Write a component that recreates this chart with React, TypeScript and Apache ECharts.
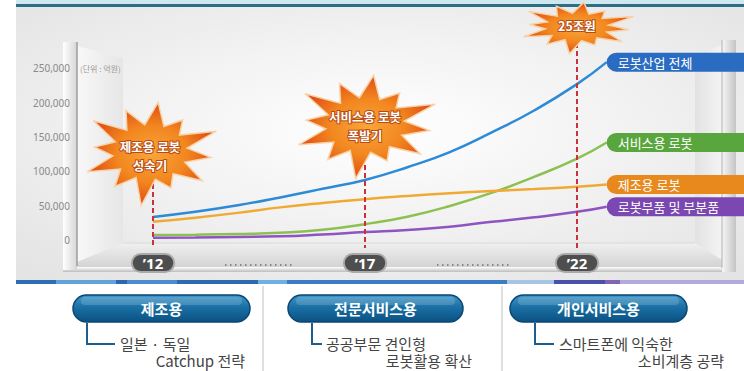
import React, { useEffect, useRef } from 'react';
import * as echarts from 'echarts';

const KR = '"Noto Sans CJK KR", "Noto Sans", sans-serif';

// x positions (years); the last point is where the lines run into their labels
const years = [2012, 2013, 2014, 2015, 2016, 2017, 2018, 2019, 2020, 2021, 2022, 2022.7];
const totalIndustry = [33500, 41000, 50500, 62000, 74500, 87500, 106000, 128000, 157000, 189000, 227000, 259000];
const serviceRobots = [7300, 7700, 8700, 10600, 14800, 23000, 33900, 49500, 68900, 92200, 118500, 142000];
const manufacturingRobots = [26500, 32500, 39500, 47500, 54000, 59500, 64000, 68000, 71300, 74200, 77600, 80800];
const robotParts = [3300, 3800, 4500, 5300, 8000, 11500, 14600, 19400, 26600, 33000, 41000, 48500];

const seriesNames = ['로봇산업 전체', '서비스용 로봇', '제조용 로봇', '로봇부품 및 부분품'];
const seriesColors = ['#2c8ad6', '#8cc152', '#f0aa34', '#8e54c2'];
const labelColors = ['#2a6cc2', '#5aa63e', '#e8891e', '#7a48b0'];

const yearTicks = [2012, 2017, 2022];
const unitText = '(단위 : 억원)';

const milestoneYears = [2012, 2017, 2022];
const milestoneTexts = [['제조용 로봇', '성숙기'], ['서비스용 로봇', '폭발기'], ['25조원']];

const segmentTitles = ['제조용', '전문서비스용', '개인서비스용'];
const segmentLine1 = ['일본 · 독일', '공공부문 견인형', '스마트폰에 익숙한'];
const segmentLine2 = ['Catchup 전략', '로봇활용 확산', '소비계층 공략'];

const starSpikes = [1, 0.8, 1.06, 0.9, 0.96, 0.78, 1.08, 0.86, 1, 0.82, 1.04, 0.9];

function starPoints(cx: number, cy: number, rx: number, ry: number) {
  const n = starSpikes.length;
  const pts: number[][] = [];
  for (let i = 0; i < n * 2; i++) {
    const a = (Math.PI * i) / n - Math.PI / 2 + 0.12;
    const r = i % 2 === 0 ? starSpikes[i / 2] : 0.55;
    pts.push([cx + Math.cos(a) * rx * r, cy + Math.sin(a) * ry * r]);
  }
  return pts;
}

const lin = (x2: number, y2: number, stops: [number, string][]) => ({
  type: 'linear', x: 0, y: 0, x2, y2,
  colorStops: stops.map(([offset, color]) => ({ offset, color })),
});

export default function App() {
  const ref = useRef<HTMLDivElement>(null);
  useEffect(() => {
    const chart = echarts.init(ref.current!, null, { renderer: 'svg' });
    const data = [totalIndustry, serviceRobots, manufacturingRobots, robotParts];
    const series = data.map((vals, i) => ({
      type: 'line',
      name: seriesNames[i],
      data: years.map((y, j) => [y, vals[j]]),
      smooth: 0.5,
      symbol: 'none',
      z: 5,
      clip: false,
      lineStyle: { color: seriesColors[i], width: 2.5 },
      itemStyle: { color: seriesColors[i] },
      emphasis: { disabled: true },
      endLabel: {
        show: true,
        formatter: seriesNames[i],
        distance: 0,
        backgroundColor: labelColors[i],
        color: '#fff',
        fontSize: 13,
        lineHeight: 13,
        fontFamily: KR,
        width: 126,
        padding: [3, 4, 3, 11],
        borderRadius: [10, 0, 0, 10],
      },
    }));

    chart.setOption({
      animation: false,
      grid: { left: 75, right: 103.4, top: 34, bottom: 131 },
      xAxis: {
        type: 'value',
        min: 2010.16,
        max: 2023.5,
        z: 5,
        axisLine: { show: false },
        axisTick: { show: false },
        splitLine: { show: false },
        axisLabel: {
          customValues: yearTicks,
          formatter: (v: number) => '\u2019' + String(v).slice(2),
          margin: 15,
          color: '#fff',
          fontSize: 15,
          fontWeight: 'bold',
          fontFamily: '"Open Sans", sans-serif',
          backgroundColor: '#4e4e4e',
          borderColor: '#aaa',
          borderWidth: 2,
          borderRadius: 9,
          padding: [0, 10, 0, 10],
          lineHeight: 16,
        },
      },
      yAxis: {
        type: 'value',
        min: 0,
        max: 300000,
        interval: 50000,
        z: 5,
        axisLine: { show: false },
        axisTick: { show: false },
        splitLine: { show: false },
        axisLabel: {
          showMaxLabel: false,
          margin: 5,
          color: '#8a8a8a',
          fontSize: 10,
          fontFamily: '"Noto Sans", sans-serif',
          formatter: (v: number) => (v >= 300000 ? '' : v.toLocaleString('en-US')),
        },
      },
      series,
    });

    const px = (x: number, y: number) => chart.convertToPixel({ gridIndex: 0 } as any, [x, y]) as number[];

    const g: any[] = [];
    // background panel
    g.push({
      type: 'rect', z: 0, silent: true,
      shape: { x: 16, y: 7, width: 728, height: 273 },
      style: { fill: { type: 'radial', x: 0.5, y: 0.45, r: 0.7, colorStops: [{ offset: 0, color: '#ffffff' }, { offset: 1, color: '#e4e4e4' }] } },
    });
    // top bar
    g.push({ type: 'rect', z: 0, silent: true, shape: { x: 16, y: 0, width: 728, height: 5 }, style: { fill: '#cfe7ef' } });
    g.push({ type: 'rect', z: 0, silent: true, shape: { x: 16, y: 4, width: 728, height: 3 }, style: { fill: '#2e6e84' } });
    // left wall
    g.push({
      type: 'polygon', z: 0, silent: true,
      shape: { points: [[77, 46], [123, 58], [123, 243], [77, 262]] },
      style: { fill: lin(1, 0, [[0, '#f8f8f8'], [1, '#e6e6e6']]) },
    });
    // right wall
    g.push({
      type: 'polygon', z: 0, silent: true,
      shape: { points: [[695, 55], [722, 45], [722, 268], [695, 243]] },
      style: { fill: lin(1, 0, [[0, '#e2e2e2'], [1, '#f4f4f4']]) },
    });
    // floor
    g.push({
      type: 'polygon', z: 0, silent: true,
      shape: { points: [[123, 243], [695, 243], [735, 268], [63, 268]] },
      style: { fill: lin(0, 1, [[0, '#f0f0f0'], [1, '#d2d2d2']]) },
    });
    g.push({ type: 'line', z: 0, silent: true, shape: { x1: 123, y1: 243, x2: 695, y2: 243 }, style: { stroke: '#d8d8d8', lineWidth: 1 } });
    g.push({ type: 'rect', z: 0, silent: true, shape: { x: 63, y: 267, width: 673, height: 5 }, style: { fill: lin(0, 1, [[0, '#ffffff'], [1, '#bdbdbd']]) } });
    // pillars
    g.push({ type: 'rect', z: 0, silent: true, shape: { x: 63, y: 42, width: 14, height: 228 }, style: { fill: lin(1, 0, [[0, '#ffffff'], [1, '#d6d6d6']]) } });
    g.push({ type: 'line', z: 0, silent: true, shape: { x1: 77, y1: 42, x2: 77, y2: 266 }, style: { stroke: '#9e9e9e', lineWidth: 1.5 } });
    g.push({ type: 'rect', z: 0, silent: true, shape: { x: 722, y: 40, width: 14, height: 232 }, style: { fill: lin(1, 0, [[0, '#f6f6f6'], [1, '#c4c4c4']]) } });
    g.push({ type: 'line', z: 0, silent: true, shape: { x1: 722, y1: 40, x2: 722, y2: 268 }, style: { stroke: '#b0b0b0', lineWidth: 1 } });

    // unit text
    g.push({ type: 'text', z: 6, silent: true, style: { text: unitText, x: 80, y: px(2012, 250000)[1], verticalAlign: 'middle', fill: '#9a9a9a', fontSize: 8, fontFamily: KR } });

    // dotted separators between year pills
    const p12 = px(2012, 0)[0], p17 = px(2017, 0)[0], p22 = px(2022, 0)[0];
    [[p12 + 72, p17 - 72], [p17 + 72, p22 - 68]].forEach(([a, b]) => {
      g.push({ type: 'line', z: 1, silent: true, shape: { x1: a, y1: 265, x2: b, y2: 265 }, style: { stroke: '#888', lineWidth: 2, lineDash: [1.5, 3.5] } });
    });

    // milestone starbursts + dashed lines
    const starGeom = [
      { dx: -3, cy: 152, rx: 68, ry: 50, ty: [146, 165] },
      { dx: 0, cy: 125, rx: 72, ry: 50, ty: [116, 135] },
      { dx: 0, cy: 27, rx: 58, ry: 25, ty: [25] },
    ];
    milestoneYears.forEach((yr, i) => {
      const x = px(yr, 0)[0];
      const s = starGeom[i];
      g.push({ type: 'line', z: 8, silent: true, shape: { x1: x, y1: s.cy, x2: x, y2: 248 }, style: { stroke: '#c8323c', lineWidth: 2, lineDash: [5, 3] } });
      g.push({
        type: 'polygon', z: 10, silent: true,
        shape: { points: starPoints(x + s.dx, s.cy, s.rx, s.ry) },
        style: {
          fill: { type: 'radial', x: 0.5, y: 0.5, r: 0.5, colorStops: [{ offset: 0, color: '#f9a53a' }, { offset: 0.55, color: '#f2861f' }, { offset: 1, color: '#df4d16' }] },
          stroke: '#f8d2a6', lineWidth: 1.5,
        },
      });
      milestoneTexts[i].forEach((t, k) => {
        g.push({
          type: 'text', z: 11, silent: true,
          style: { text: t, x: x + s.dx, y: s.ty[k], align: 'center', verticalAlign: 'middle', lineHeight: 14, fill: '#fff', fontSize: 12.5, fontWeight: 'bold', fontFamily: KR, stroke: '#b84a12', lineWidth: 2 },
        });
      });
    });

    // bottom colored strip
    const strip: [number, number, string][] = [
      [16, 56, '#2f6db5'], [56, 116, '#5fa2dc'], [116, 127, '#2d66ae'], [127, 177, '#4d8bd0'],
      [177, 258, '#2d6ab0'], [258, 287, '#6ab2e2'], [287, 507, '#3a7cc5'], [507, 554, '#a6c4e4'],
      [554, 605, '#4a4fa8'], [605, 620, '#8462b4'], [620, 744, '#b2aadb'],
    ];
    strip.forEach(([a, b, c]) => g.push({ type: 'rect', z: 1, silent: true, shape: { x: a, y: 280, width: b - a, height: 4 }, style: { fill: c } }));

    // column separators
    [263, 502].forEach((x) => g.push({ type: 'line', z: 1, silent: true, shape: { x1: x, y1: 286, x2: x, y2: 371 }, style: { stroke: '#d4d4d4', lineWidth: 1.5 } }));

    // segment badges
    const badges = [
      { x: 73, w: 177, lx: 87, lx2: 115, t1: 120, t2: 245 },
      { x: 288, w: 175, lx: 312, lx2: 322, t1: 326, t2: 472 },
      { x: 510, w: 177, lx: 535, lx2: 554, t1: 559, t2: 724 },
    ];
    badges.forEach((b, i) => {
      g.push({
        type: 'rect', z: 2, silent: true,
        shape: { x: b.x, y: 295, width: b.w, height: 27, r: 13.5 },
        style: { fill: lin(0, 1, [[0, '#3f96c9'], [0.45, '#1a70a4'], [1, '#0b5183']]), stroke: '#0a4673', lineWidth: 1.5 },
      });
      g.push({
        type: 'rect', z: 2, silent: true,
        shape: { x: b.x + 8, y: 297, width: b.w - 16, height: 8, r: 4 },
        style: { fill: 'rgba(255,255,255,0.16)' },
      });
      g.push({
        type: 'text', z: 3, silent: true,
        style: { text: segmentTitles[i], x: b.x + b.w / 2, y: 308.5, align: 'center', verticalAlign: 'middle', fill: '#fff', fontSize: 15, fontWeight: 'bold', fontFamily: KR },
      });
      g.push({
        type: 'polyline', z: 2, silent: true,
        shape: { points: [[b.lx, 323], [b.lx, 344], [b.lx2, 344]] },
        style: { stroke: '#1c5f8e', lineWidth: 2, fill: 'none' },
      });
      g.push({
        type: 'text', z: 3, silent: true,
        style: { text: segmentLine1[i], x: b.t1, y: 343, align: 'left', verticalAlign: 'middle', lineHeight: 16, fill: '#444', fontSize: 15, fontFamily: KR },
      });
      g.push({
        type: 'text', z: 3, silent: true,
        style: { text: segmentLine2[i], x: b.t2, y: 360, align: 'right', verticalAlign: 'middle', lineHeight: 16, fill: '#444', fontSize: 15, fontFamily: KR },
      });
    });

    chart.setOption({ graphic: g });

    return () => chart.dispose();
  }, []);
  return <div ref={ref} style={{ position: 'fixed', left: 0, top: 0, width: 744, height: 371, background: '#fff' }} />;
}
